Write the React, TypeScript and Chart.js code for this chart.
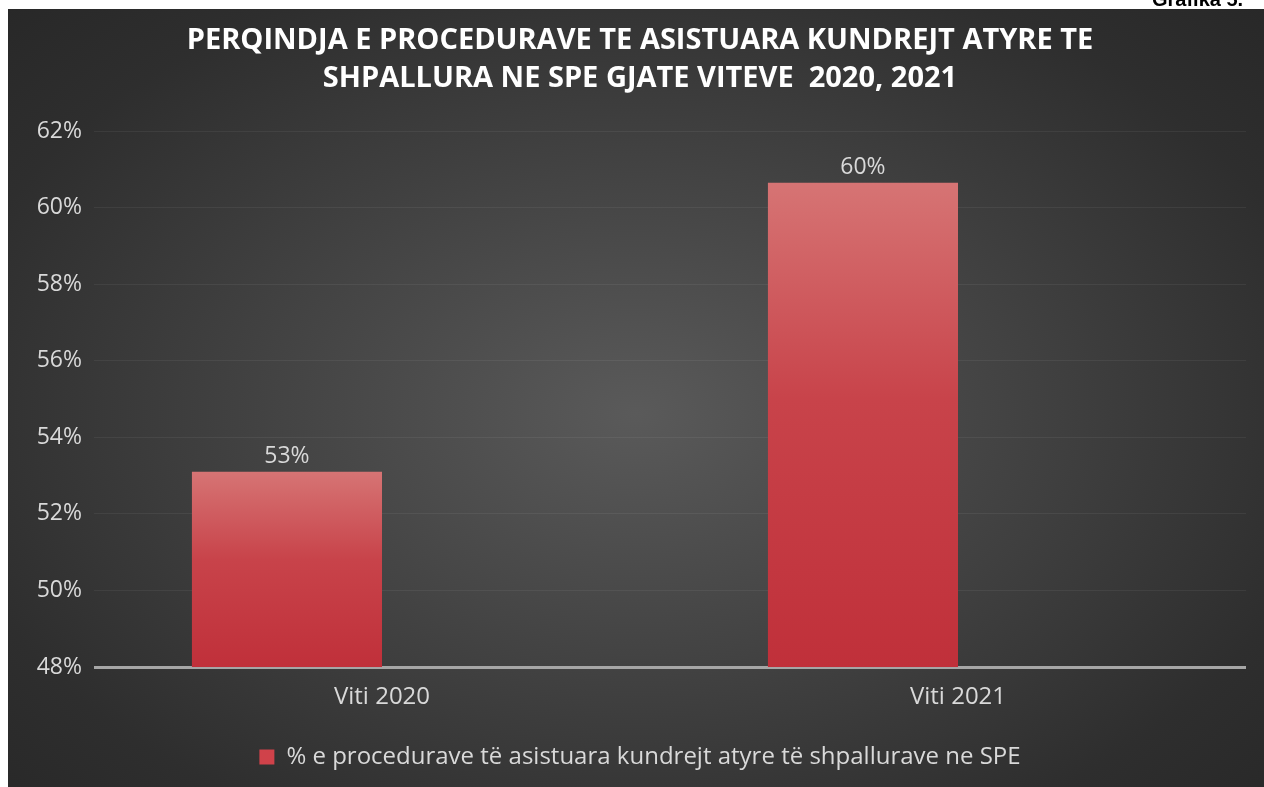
import React, { useEffect, useRef } from "react";
import { Chart, registerables } from "chart.js";

Chart.register(...registerables);

const categories = ["Viti 2020", "Viti 2021"];
const seriesValues = [53.1, 60.65];
const valueLabels = ["53%", "60%"];
const seriesLabel = "% e procedurave të asistuara kundrejt atyre të shpallurave ne SPE";
const titleLines = [
  "PERQINDJA E PROCEDURAVE TE ASISTUARA KUNDREJT ATYRE TE",
  "SHPALLURA NE SPE GJATE VITEVE  2020, 2021",
];
const yMin = 48;
const yMax = 62;
const yStep = 2;

const FONT = "'Open Sans', 'DejaVu Sans', sans-serif";
const TEXT = "#d9d9d9";

const valueLabelPlugin = {
  id: "valueLabels",
  afterDatasetsDraw(chart: any) {
    const meta = chart.getDatasetMeta(0);
    const ctx = chart.ctx;
    ctx.save();
    ctx.fillStyle = TEXT;
    ctx.font = `23px ${FONT}`;
    ctx.textAlign = "center";
    ctx.textBaseline = "middle";
    meta.data.forEach((bar: any, i: number) => {
      ctx.fillText(valueLabels[i], bar.x, bar.y - 15);
    });
    ctx.restore();
  },
};

export default function App() {
  const ref = useRef<HTMLCanvasElement | null>(null);
  useEffect(() => {
    if (!ref.current) return;
    const chart = new Chart(ref.current, {
      type: "bar",
      data: {
        labels: categories,
        datasets: [
          {
            label: seriesLabel,
            data: seriesValues,
            backgroundColor: (c: any) => {
              const ch = c.chart;
              const ys = ch.scales && ch.scales.y;
              if (!ys || c.raw === undefined) return "#c83c40";
              const top = ys.getPixelForValue(c.raw);
              const bot = ys.getPixelForValue(yMin);
              const g = ch.ctx.createLinearGradient(0, top, 0, bot);
              g.addColorStop(0, "#d67474");
              g.addColorStop(0.45, "#c8434a");
              g.addColorStop(1, "#c0303a");
              return g;
            },
            borderWidth: 0,
            categoryPercentage: 0.66,
            barPercentage: 1.0,
          },
          {
            label: "",
            data: [],
            backgroundColor: "rgba(0,0,0,0)",
            categoryPercentage: 0.66,
            barPercentage: 1.0,
          },
        ],
      },
      options: {
        animation: false,
        responsive: true,
        maintainAspectRatio: false,
        layout: { padding: { left: 26, right: 18, top: 0, bottom: 8 } },
        plugins: {
          title: {
            display: true,
            text: titleLines,
            color: "#ffffff",
            font: { family: FONT, size: 29, weight: "bold", lineHeight: 1.33 },
            padding: { top: 12, bottom: 33 },
          },
          legend: {
            position: "bottom",
            labels: {
              color: TEXT,
              font: { family: FONT, size: 24 },
              boxWidth: 15,
              boxHeight: 15,
              padding: 8,
              generateLabels: () => [
                {
                  text: seriesLabel,
                  fillStyle: "#d0424a",
                  strokeStyle: "#d0424a",
                  lineWidth: 0,
                  datasetIndex: 0,
                  fontColor: TEXT,
                },
              ],
            },
          },
          tooltip: { enabled: false },
        },
        scales: {
          x: {
            afterFit: (s: any) => {
              s.height = 70;
            },
            grid: { display: false, drawTicks: false },
            border: { display: false },
            ticks: { color: TEXT, font: { family: FONT, size: 24 }, padding: 16 },
          },
          y: {
            min: yMin,
            max: yMax,
            afterFit: (s: any) => {
              s.width = 60;
            },
            ticks: {
              stepSize: yStep,
              color: TEXT,
              font: { family: FONT, size: 23 },
              padding: 12,
              callback: (v: any) => `${v}%`,
            },
            grid: {
              drawTicks: false,
              color: (c: any) =>
                c.tick && c.tick.value === yMin ? "#a6a6a6" : "rgba(255,255,255,0.06)",
              lineWidth: (c: any) => (c.tick && c.tick.value === yMin ? 3 : 1),
            },
            border: { display: false },
          },
        },
      },
      plugins: [valueLabelPlugin],
    } as any);
    return () => chart.destroy();
  }, []);

  return (
    <div>
      <div
        style={{
          position: "fixed",
          left: 1152,
          top: -12,
          font: "bold 20px 'Liberation Sans', Arial, sans-serif",
          color: "#000",
          whiteSpace: "nowrap",
        }}
      >
        Grafika 5.
      </div>
      <div
        style={{
          position: "fixed",
          left: 8,
          top: 9,
          width: 1256,
          height: 778,
          background:
            "radial-gradient(ellipse 70% 75% at 50% 52%, #5a5a5a 0%, #444 40%, #2e2e2e 80%, #282828 100%)",
        }}
      >
        <canvas ref={ref} style={{ width: "100%", height: "100%" }} />
      </div>
    </div>
  );
}
